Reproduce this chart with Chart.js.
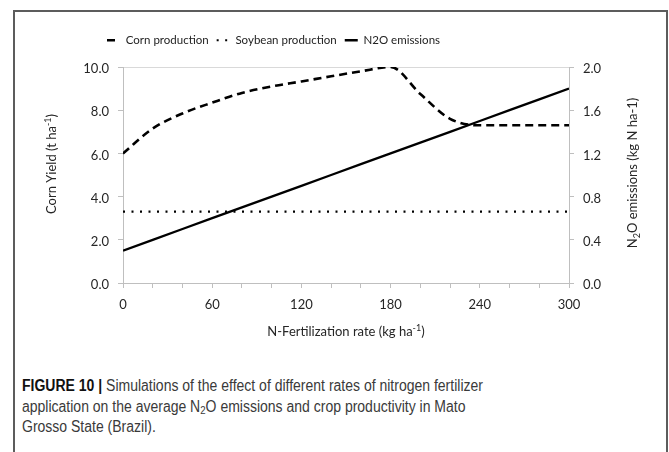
<!DOCTYPE html>
<html>
<head>
<meta charset="utf-8">
<script src="https://cdn.jsdelivr.net/npm/chart.js@4.4.1/dist/chart.umd.min.js"></script>
<style>
  html, body { margin: 0; padding: 0; background: #fff; width: 669px; height: 452px; overflow: hidden; }
  #frame { position: absolute; left: 13px; top: 10px; width: 651px; height: 480px; border: 2px solid #5c5c5c; }
  #wrap { position: absolute; left: 0; top: 0; width: 669px; height: 345px; }
  #caption {
    position: absolute; left: 22px; top: 376px; width: 720px;
    font-family: "Liberation Sans Narrow", "Liberation Sans", Arial, sans-serif;
    font-size: 16px; line-height: 20.5px; color: #3a3a3a; white-space: nowrap;
    transform: scaleX(0.875); transform-origin: 0 0;
  }
  #caption b { color: #111; }
  #caption sub { font-size: 11px; line-height: 0; vertical-align: -2px; }
</style>
</head>
<body>
<div id="frame"></div>
<div id="wrap"><canvas id="c" width="669" height="345"></canvas></div>
<div id="caption"><b>FIGURE 10 |</b> Simulations of the effect of different rates of nitrogen fertilizer<br>application on the average N<sub>2</sub>O emissions and crop productivity in Mato<br>Grosso State (Brazil).</div>
<script>
// N-fertilization rates (kg ha-1)
const rates = [0, 20, 40, 60, 80, 100, 120, 140, 160, 180, 200, 220, 240, 260, 280, 300];
// Corn yield (t ha-1)
const cornYield = [6.0, 7.15, 7.85, 8.35, 8.8, 9.1, 9.33, 9.57, 9.8, 10.0, 8.75, 7.6, 7.3, 7.3, 7.3, 7.3];
// Soybean yield (t ha-1)
const soybeanYield = [3.3, 3.3, 3.3, 3.3, 3.3, 3.3, 3.3, 3.3, 3.3, 3.3, 3.3, 3.3, 3.3, 3.3, 3.3, 3.3];
// N2O emissions (kg N ha-1)
const n2oEmissions = [0.3, 0.4, 0.5, 0.6, 0.7, 0.8, 0.9, 1.0, 1.1, 1.2, 1.3, 1.4, 1.5, 1.6, 1.7, 1.8];
// Labelled x ticks (the others are minor tick marks)
const rateLabels = [0, 60, 120, 180, 240, 300];

const FONT = 'Lato, "Liberation Sans", sans-serif';
const TEXT = '#262626';
const AXIS = '#bfbfbf';

const toPoints = vals => rates.map((r, i) => ({ x: r, y: vals[i] }));

// Rich-text helper for axis titles with sub/superscripts
function drawRich(ctx, parts, cx, cy, rotation) {
  const base = '13px ' + FONT, small = '9px ' + FONT;
  ctx.save();
  ctx.translate(cx, cy);
  ctx.rotate(rotation);
  let w = 0;
  parts.forEach(p => { ctx.font = p.sup || p.sub ? small : base; p.w = ctx.measureText(p.t).width; w += p.w; });
  let x = -w / 2;
  ctx.fillStyle = TEXT;
  ctx.textBaseline = 'alphabetic';
  ctx.textAlign = 'left';
  parts.forEach(p => {
    ctx.font = p.sup || p.sub ? small : base;
    const dy = p.sup ? -5 : p.sub ? 3 : 0;
    ctx.fillText(p.t, x, 4.6 + dy);
    x += p.w;
  });
  ctx.restore();
}

const axisTitles = {
  id: 'axisTitles',
  afterDraw(chart) {
    const ctx = chart.ctx;
    const a = chart.chartArea;
    drawRich(ctx, [{ t: 'Corn Yield (t ha' }, { t: '-1', sup: true }, { t: ')' }], 51, 164, -Math.PI / 2);
    drawRich(ctx, [{ t: 'N' }, { t: '2', sub: true }, { t: 'O emissions (kg N ha-1)' }], 632, 173, -Math.PI / 2);
    drawRich(ctx, [{ t: 'N-Fertilization rate (kg ha' }, { t: '-1', sup: true }, { t: ')' }], (a.left + a.right) / 2, 331, 0);
  }
};

// Legend row sits left of the plot centre
const legendPlacement = {
  id: 'legendPlacement',
  afterLayout(chart) {
    const lg = chart.legend;
    const dx = 99 - lg.left;
    lg.left += dx; lg.right += dx;
    lg.top = 26.5;
  }
};

new Chart(document.getElementById('c'), {
  type: 'line',
  data: {
    datasets: [
      { label: 'Corn production', data: toPoints(cornYield), yAxisID: 'y', borderColor: '#000', borderWidth: 2.6,
        borderDash: [8, 5], cubicInterpolationMode: 'monotone', pointRadius: 0, fill: false },
      { label: 'Soybean production', data: toPoints(soybeanYield), yAxisID: 'y', borderColor: '#000', borderWidth: 2.2,
        borderDash: [2, 6.5], pointRadius: 0, fill: false },
      { label: 'N2O emissions', data: toPoints(n2oEmissions), yAxisID: 'y2', borderColor: '#000', borderWidth: 2.3,
        pointRadius: 0, fill: false }
    ]
  },
  options: {
    responsive: false,
    animation: false,
    devicePixelRatio: 1,
    layout: { padding: { left: 0, right: 0, top: 37.5, bottom: 0 } },
    plugins: {
      tooltip: { enabled: false },
      legend: {
        position: 'top',
        align: 'start',
        labels: {
          usePointStyle: true,
          pointStyleWidth: 13,
          padding: 8,
          color: '#222',
          font: { family: FONT, size: 11.5 },
          generateLabels: chart => chart.data.datasets.map((ds, i) => ({
            text: ds.label, datasetIndex: i, hidden: false,
            fillStyle: 'rgba(0,0,0,0)', strokeStyle: ds.borderColor,
            lineWidth: ds.borderWidth, lineDash: ds.borderDash || [], lineCap: 'butt',
            pointStyle: 'line', fontColor: '#222'
          }))
        }
      }
    },
    scales: {
      x: {
        type: 'linear', min: 0, max: 300,
        ticks: { stepSize: 20, autoSkip: false, maxRotation: 0, padding: 9, color: TEXT, font: { family: FONT, size: 13 },
          callback: v => rateLabels.includes(v) ? String(v) : '' },
        grid: { drawOnChartArea: false, tickLength: 5, tickColor: AXIS },
        border: { color: AXIS, width: 1 },
        afterFit(s) { s.height = 62; }
      },
      y: {
        position: 'left', min: 0, max: 10,
        ticks: { stepSize: 2, padding: 9, labelOffset: 2, color: TEXT, font: { family: FONT, size: 13 }, callback: v => v.toFixed(1) },
        grid: { color: c => (c.tick && c.tick.value === 10) ? '#d9d9d9' : 'rgba(0,0,0,0)', tickColor: AXIS, tickLength: 5 },
        border: { color: AXIS, width: 1 },
        afterFit(s) { s.width = 123; }
      },
      y2: {
        position: 'right', min: 0, max: 2,
        ticks: { stepSize: 0.4, padding: 9, labelOffset: 2, color: TEXT, font: { family: FONT, size: 13 }, callback: v => v.toFixed(1) },
        grid: { drawOnChartArea: false, tickColor: AXIS, tickLength: 5 },
        border: { color: AXIS, width: 1 },
        afterFit(s) { s.width = 100; }
      }
    }
  },
  plugins: [legendPlacement, axisTitles]
});
</script>
</body>
</html>
